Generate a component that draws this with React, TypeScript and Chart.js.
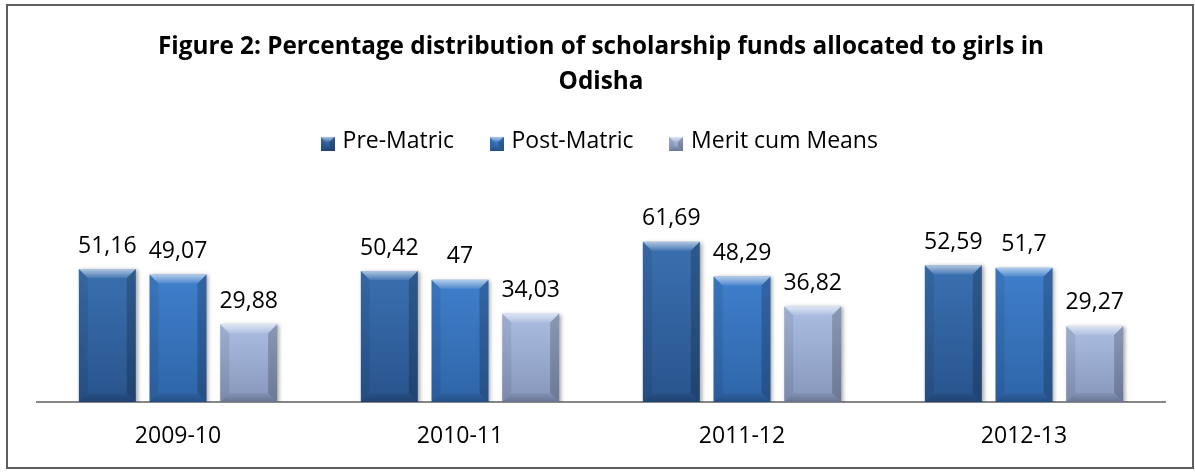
import React, { useEffect, useRef } from 'react';
import { Chart, registerables } from 'chart.js';

Chart.register(...registerables);

const categories = ['2009-10', '2010-11', '2011-12', '2012-13'];
const preMatric = [51.16, 50.42, 61.69, 52.59];
const postMatric = [49.07, 47, 48.29, 51.7];
const meritCumMeans = [29.88, 34.03, 36.82, 29.27];
const seriesNames = ['Pre-Matric', 'Post-Matric', 'Merit cum Means'];
const titleLines = [
  'Figure 2: Percentage distribution of scholarship funds allocated to girls in',
  'Odisha',
];

const FONT = '"Open Sans", Lato, sans-serif';

const palettes = [
  { top: '#3a70b0', bottom: '#29548d' },
  { top: '#3f7fcc', bottom: '#2f65a8' },
  { top: '#abbee2', bottom: '#8696bb' },
];

function fmt(v: number): string {
  return String(v).replace('.', ',');
}

function drawBevel(ctx: CanvasRenderingContext2D, L: number, T: number, R: number, B: number, b: number) {
  const h = B - T;
  const bb = Math.min(b, h / 2);
  let g = ctx.createLinearGradient(0, T, 0, T + bb);
  g.addColorStop(0, 'rgba(255,255,255,0.6)');
  g.addColorStop(1, 'rgba(255,255,255,0.08)');
  ctx.fillStyle = g;
  ctx.beginPath();
  ctx.moveTo(L, T);
  ctx.lineTo(R, T);
  ctx.lineTo(R - bb, T + bb);
  ctx.lineTo(L + bb, T + bb);
  ctx.closePath();
  ctx.fill();
  ctx.fillStyle = 'rgba(0,0,0,0.08)';
  ctx.beginPath();
  ctx.moveTo(L, T);
  ctx.lineTo(L + bb, T + bb);
  ctx.lineTo(L + bb, B - bb);
  ctx.lineTo(L, B);
  ctx.closePath();
  ctx.fill();
  ctx.fillStyle = 'rgba(0,0,0,0.2)';
  ctx.beginPath();
  ctx.moveTo(R, T);
  ctx.lineTo(R - bb, T + bb);
  ctx.lineTo(R - bb, B - bb);
  ctx.lineTo(R, B);
  ctx.closePath();
  ctx.fill();
  g = ctx.createLinearGradient(0, B - bb, 0, B);
  g.addColorStop(0, 'rgba(0,0,0,0.05)');
  g.addColorStop(1, 'rgba(0,0,0,0.22)');
  ctx.fillStyle = g;
  ctx.beginPath();
  ctx.moveTo(L, B);
  ctx.lineTo(L + bb, B - bb);
  ctx.lineTo(R - bb, B - bb);
  ctx.lineTo(R, B);
  ctx.closePath();
  ctx.fill();
}

// legend marker: 14x14 square, drawn 2px below the text centre
function makeIcon(i: number): HTMLCanvasElement {
  const c = document.createElement('canvas');
  c.width = 14;
  c.height = 18;
  const x = c.getContext('2d')!;
  const g = x.createLinearGradient(0, 4, 0, 18);
  g.addColorStop(0, palettes[i].top);
  g.addColorStop(1, palettes[i].bottom);
  x.fillStyle = g;
  x.fillRect(0, 4, 14, 14);
  drawBevel(x, 0, 4, 14, 18, 5);
  return c;
}

function faceGradient(c: any, i: number) {
  const p = palettes[i];
  const chart = c.chart;
  if (!chart.chartArea || c.type !== 'data' || !c.parsed) return p.top;
  const ys = chart.scales.y;
  const top = ys.getPixelForValue(c.parsed.y);
  const bot = ys.getPixelForValue(0);
  const g = chart.ctx.createLinearGradient(0, top, 0, bot);
  g.addColorStop(0, p.top);
  g.addColorStop(1, p.bottom);
  return g;
}

const LEGEND_EXTRA = 56.7;

const decorPlugin = {
  id: 'decor',
  beforeLayout(chart: any) {
    const lg = chart.legend;
    if (lg && !lg.__patched) {
      const orig = lg.fit;
      lg.fit = function () {
        orig.call(this);
        this.height += LEGEND_EXTRA;
      };
      lg.__patched = true;
    }
  },
  beforeDatasetsDraw(chart: any) {
    const ctx = chart.ctx;
    ctx.save();
    ctx.shadowColor = 'rgba(0,0,0,0.35)';
    ctx.shadowBlur = 4;
    ctx.shadowOffsetX = 2;
    ctx.shadowOffsetY = 1;
  },
  afterDatasetsDraw(chart: any) {
    const ctx = chart.ctx;
    ctx.restore();
    chart.data.datasets.forEach((ds: any, di: number) => {
      const meta = chart.getDatasetMeta(di);
      meta.data.forEach((el: any, i: number) => {
        const { x, y, base, width } = el.getProps(['x', 'y', 'base', 'width'], true);
        ctx.save();
        drawBevel(ctx, x - width / 2, y, x + width / 2, base, 9);
        ctx.restore();
        ctx.save();
        ctx.font = `23px ${FONT}`;
        ctx.fillStyle = '#000';
        ctx.textAlign = 'center';
        ctx.textBaseline = 'middle';
        ctx.fillText(fmt(ds.data[i]), x, y - 23);
        ctx.restore();
      });
    });
  },
};

export default function App() {
  const ref = useRef<HTMLCanvasElement>(null);
  useEffect(() => {
    const canvas = ref.current!;
    const icons = [0, 1, 2].map(makeIcon);
    const chart = new Chart(canvas, {
      type: 'bar',
      data: {
        labels: categories,
        datasets: [preMatric, postMatric, meritCumMeans].map((d, i) => ({
          label: seriesNames[i],
          data: d,
          backgroundColor: (c: any) => faceGradient(c, i),
          borderWidth: 0,
          categoryPercentage: 0.752,
          barPercentage: 0.806,
        })),
      },
      options: {
        responsive: false,
        animation: false,
        layout: { padding: { left: 29, right: 27, top: 0, bottom: -4.6 } },
        plugins: {
          title: {
            display: true,
            text: titleLines,
            color: '#000',
            font: { family: FONT, size: 24.3, weight: 'bold', lineHeight: 1.417 },
            padding: { top: 24, bottom: -7.5 },
          },
          legend: {
            position: 'top',
            labels: {
              color: '#000',
              font: { family: FONT, size: 23 },
              usePointStyle: true,
              boxWidth: 7,
              boxHeight: 14,
              padding: 39,
              generateLabels: (ch: any) =>
                (Chart.defaults.plugins.legend.labels as any)
                  .generateLabels(ch)
                  .map((l: any) => ({ ...l, pointStyle: icons[l.datasetIndex] })),
            },
          },
          tooltip: { enabled: false },
        },
        scales: {
          x: {
            z: 1,
            grid: { display: false, drawTicks: false },
            border: { display: true, color: '#868686', width: 2 },
            ticks: { color: '#000', font: { family: FONT, size: 23 }, padding: 21 },
          },
          y: { display: false, min: 0, max: 70 },
        },
      } as any,
      plugins: [decorPlugin],
    });
    return () => chart.destroy();
  }, []);

  return (
    <div
      style={{
        position: 'absolute',
        left: 6,
        top: 4,
        width: 1188,
        height: 465,
        boxSizing: 'border-box',
        border: '2px solid #5e5e5e',
        background: '#fff',
      }}
    >
      <canvas ref={ref} width={1184} height={461} style={{ display: 'block' }} />
    </div>
  );
}
